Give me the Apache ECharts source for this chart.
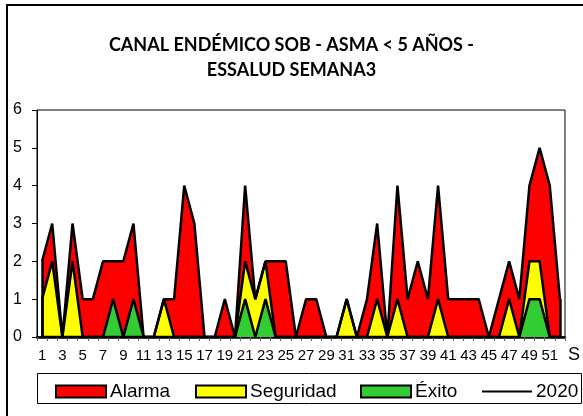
<!DOCTYPE html>
<html>
<head>
<meta charset="utf-8">
<script src="https://cdn.jsdelivr.net/npm/echarts@6/dist/echarts.min.js"></script>
<style>
  html, body { margin: 0; padding: 0; background: #fff; }
  #chart { width: 583px; height: 416px; }
</style>
</head>
<body>
<div id="chart"></div>
<script>
// semanas epidemiologicas 1..52
var semanas = [];
for (var s = 1; s <= 52; s++) semanas.push(String(s));

var alarma = [2, 3, 0, 3, 1, 1, 2, 2, 2, 3, 0, 0, 1, 1, 4, 3, 0, 0, 1, 0,
  4, 1, 2, 2, 2, 0, 1, 1, 0, 0, 1, 0, 1, 3, 0, 4, 1, 2, 1, 4,
  1, 1, 1, 1, 0, 1, 2, 1, 4, 5, 4, 1];
var seguridad = [1, 2, 0, 2, 0, 0, 0, 0, 0, 0, 0, 0, 1, 0, 0, 0, 0, 0, 0, 0,
  2, 1, 2, 0, 0, 0, 0, 0, 0, 0, 1, 0, 0, 1, 0, 1, 0, 0, 0, 1,
  0, 0, 0, 0, 0, 0, 1, 0, 2, 2, 0, 0];
var exito = [0, 0, 0, 0, 0, 0, 0, 1, 0, 1, 0, 0, 0, 0, 0, 0, 0, 0, 0, 0,
  1, 0, 1, 0, 0, 0, 0, 0, 0, 0, 0, 0, 0, 0, 0, 0, 0, 0, 0, 0,
  0, 0, 0, 0, 0, 0, 0, 0, 1, 1, 0, 0];
var casos2020 = [0, 0, 0];

var chartDom = document.getElementById('chart');
var myChart = echarts.init(chartDom);

function areaSerie(name, data, color) {
  var last = data.length - 1;
  return {
    name: name,
    type: 'line',
    data: data,
    symbol: 'none',
    itemStyle: { color: color },
    lineStyle: { color: '#000', width: 2.5 },
    areaStyle: { color: color, opacity: 1 },
    // bordes verticales del area en la primera y ultima semana
    markLine: {
      silent: true,
      symbol: 'none',
      label: { show: false },
      lineStyle: { color: '#000', width: 2.5, type: 'solid' },
      data: [
        [{ coord: [semanas[0], 0] }, { coord: [semanas[0], data[0]] }],
        [{ coord: [semanas[last], 0] }, { coord: [semanas[last], data[last]] }]
      ]
    },
    animation: false
  };
}

function legendItem(name, left, color, h, border) {
  return {
    data: [{
      name: name,
      icon: 'rect',
      itemStyle: { color: color, borderColor: '#000', borderWidth: border }
    }],
    left: left,
    top: 377,
    itemWidth: 50,
    itemHeight: h,
    itemGap: 0,
    selectedMode: false,
    textStyle: { fontFamily: 'Liberation Sans, Arial', fontSize: 19, color: '#000', padding: [0, 0, 0, -1] }
  };
}

var option = {
  backgroundColor: '#fff',
  animation: false,
  title: {
    text: 'CANAL ENDÉMICO SOB - ASMA < 5 AÑOS -\nESSALUD SEMANA3',
    left: 'center',
    top: 28,
    textStyle: { fontFamily: 'Lato', fontWeight: 'bold', fontSize: 18, lineHeight: 25, color: '#000' }
  },
  graphic: [
    { type: 'rect', shape: { x: 7, y: 5, width: 620, height: 460 }, style: { fill: null, stroke: '#000', lineWidth: 2 }, silent: true },
    { type: 'rect', shape: { x: 37.5, y: 373.5, width: 544, height: 30 }, style: { fill: null, stroke: '#000', lineWidth: 1 }, silent: true }
  ],
  legend: [
    legendItem('Alarma', 50, '#ff0000', 12, 2),
    legendItem('Seguridad', 190, '#ffff00', 12, 2),
    legendItem('Éxito', 355, '#33cc33', 12, 2),
    legendItem('2020', 477, '#000', 2, 0)
  ],
  grid: {
    left: 37, right: 17, top: 110, bottom: 79,
    show: true, borderColor: '#000', borderWidth: 1, backgroundColor: 'transparent'
  },
  xAxis: {
    type: 'category',
    data: semanas,
    boundaryGap: true,
    name: 'S',
    nameLocation: 'end',
    nameGap: 3,
    nameTextStyle: { fontFamily: 'Liberation Sans, Arial', fontSize: 18, color: '#000', verticalAlign: 'top', padding: [9, 0, 0, 0] },
    axisLine: { lineStyle: { color: '#000', width: 2.5 } },
    axisTick: { show: true, interval: 0, length: 4, lineStyle: { color: '#666' } },
    axisLabel: { interval: 1, margin: 11, fontFamily: 'Liberation Sans, Arial', fontSize: 15, color: '#000' }
  },
  yAxis: {
    type: 'value',
    min: 0, max: 6, interval: 1,
    splitLine: { show: false },
    axisLine: { show: true, lineStyle: { color: '#000', width: 1 } },
    axisTick: { show: true, length: 5, lineStyle: { color: '#000' } },
    axisLabel: { margin: 15, fontFamily: 'Liberation Sans, Arial', fontSize: 16, color: '#000' }
  },
  series: [
    areaSerie('Alarma', alarma, '#ff0000'),
    areaSerie('Seguridad', seguridad, '#ffff00'),
    areaSerie('Éxito', exito, '#33cc33'),
    {
      name: '2020',
      type: 'line',
      data: casos2020,
      symbol: 'none',
      itemStyle: { color: '#000' },
      lineStyle: { color: '#000', width: 2 }
    }
  ]
};

myChart.setOption(option);
</script>
</body>
</html>
